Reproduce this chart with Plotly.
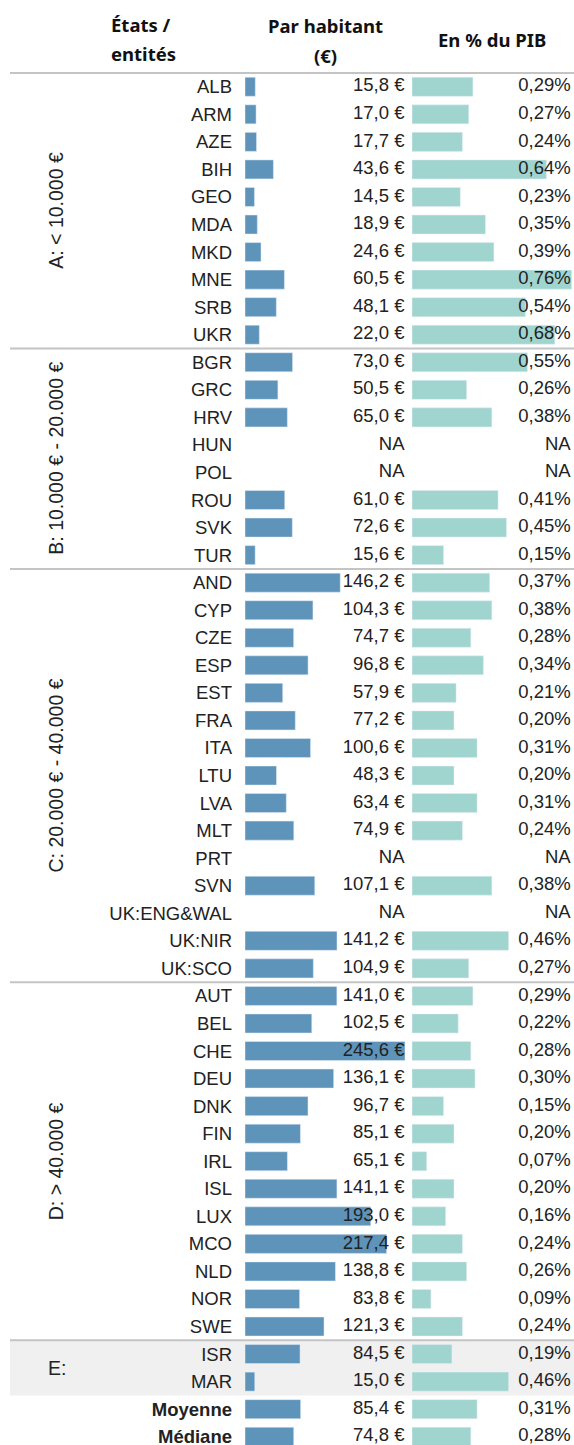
import plotly.graph_objects as go

# --- data ---
group_names = ["A: < 10.000 €", "B: 10.000 € - 20.000 €", "C: 20.000 € - 40.000 €",
               "D: > 40.000 €", "E:"]
group_sizes = [10, 8, 15, 13, 2]

entities = [
    "ALB", "ARM", "AZE", "BIH", "GEO", "MDA", "MKD", "MNE", "SRB", "UKR",
    "BGR", "GRC", "HRV", "HUN", "POL", "ROU", "SVK", "TUR",
    "AND", "CYP", "CZE", "ESP", "EST", "FRA", "ITA", "LTU", "LVA", "MLT",
    "PRT", "SVN", "UK:ENG&WAL", "UK:NIR", "UK:SCO",
    "AUT", "BEL", "CHE", "DEU", "DNK", "FIN", "IRL", "ISL", "LUX", "MCO",
    "NLD", "NOR", "SWE",
    "ISR", "MAR",
]
per_capita = [
    15.8, 17.0, 17.7, 43.6, 14.5, 18.9, 24.6, 60.5, 48.1, 22.0,
    73.0, 50.5, 65.0, None, None, 61.0, 72.6, 15.6,
    146.2, 104.3, 74.7, 96.8, 57.9, 77.2, 100.6, 48.3, 63.4, 74.9,
    None, 107.1, None, 141.2, 104.9,
    141.0, 102.5, 245.6, 136.1, 96.7, 85.1, 65.1, 141.1, 193.0, 217.4,
    138.8, 83.8, 121.3,
    84.5, 15.0,
]
pct_gdp = [
    0.29, 0.27, 0.24, 0.64, 0.23, 0.35, 0.39, 0.76, 0.54, 0.68,
    0.55, 0.26, 0.38, None, None, 0.41, 0.45, 0.15,
    0.37, 0.38, 0.28, 0.34, 0.21, 0.20, 0.31, 0.20, 0.31, 0.24,
    None, 0.38, None, 0.46, 0.27,
    0.29, 0.22, 0.28, 0.30, 0.15, 0.20, 0.07, 0.20, 0.16, 0.24,
    0.26, 0.09, 0.24,
    0.19, 0.46,
]

summary_names = ["Moyenne", "Médiane"]
summary_per_capita = [85.4, 74.8]
summary_pct = [0.31, 0.28]

# --- styling ---
BLUE = "#5e93ba"
TEAL = "#a0d4cf"
TEXT = "#222222"
RULE = "#c4c4c4"
FONT = "Liberation Sans"
HEAD_FONT = "Noto Sans"

W, H = 574, 1445
TOP = 73
ROW_PX = 27.55
n_visible = (H - TOP) / ROW_PX


def fmt_eur(v):
    return "NA" if v is None else f"{v:.1f}".replace(".", ",") + " €"


def fmt_pct(v):
    return "NA" if v is None else f"{v:.2f}".replace(".", ",") + "%"


rows = entities + summary_names
all_pc = per_capita + summary_per_capita
all_pct = pct_gdp + summary_pct
tick_text = entities + [f"<b>{s}</b>" for s in summary_names]

fig = go.Figure()

fig.add_trace(go.Bar(
    x=all_pc, y=rows, orientation="h", marker_color=BLUE, width=0.69,
    xaxis="x", yaxis="y", hoverinfo="skip", showlegend=False,
))
fig.add_trace(go.Bar(
    x=all_pct, y=rows, orientation="h", marker_color=TEAL, width=0.69,
    xaxis="x2", yaxis="y", hoverinfo="skip", showlegend=False,
))

# value labels, right aligned at the end of each column
pc_range = 250.2
pct_range = 0.7714
fig.add_trace(go.Scatter(
    x=[244.8] * len(rows), y=rows, text=[fmt_eur(v) for v in all_pc],
    mode="text", textposition="middle left", cliponaxis=False,
    textfont=dict(family=FONT, size=18.5, color=TEXT),
    xaxis="x", yaxis="y", hoverinfo="skip", showlegend=False,
))
fig.add_trace(go.Scatter(
    x=[0.7557] * len(rows), y=rows, text=[fmt_pct(v) for v in all_pct],
    mode="text", textposition="middle left", cliponaxis=False,
    textfont=dict(family=FONT, size=18.5, color=TEXT),
    xaxis="x2", yaxis="y", hoverinfo="skip", showlegend=False,
))

# group separators, E background and rotated group labels
shapes = [dict(type="line", xref="paper", yref="paper", x0=10 / W, x1=1, y0=1, y1=1,
               line=dict(color=RULE, width=2))]
annotations = []
start = 0
for name, size in zip(group_names, group_sizes):
    end = start + size
    if name == "E:":
        shapes.append(dict(type="rect", xref="paper", yref="y", x0=10 / W, x1=1,
                           y0=start - 0.5, y1=end - 0.5, fillcolor="#f0f0f0",
                           line=dict(width=0), layer="below"))
        annotations.append(dict(text=name, xref="paper", yref="y", x=57 / W,
                                y=(start + end - 1) / 2, showarrow=False,
                                xanchor="center", yanchor="middle",
                                font=dict(family=FONT, size=19.5, color=TEXT)))
    else:
        annotations.append(dict(text=name, xref="paper", yref="y", x=56 / W,
                                y=(start + end - 1) / 2, showarrow=False, textangle=-90,
                                xanchor="center", yanchor="middle",
                                font=dict(family=FONT, size=19.5, color=TEXT)))
    if start > 0:
        shapes.append(dict(type="line", xref="paper", yref="y", x0=10 / W, x1=1,
                           y0=start - 0.5, y1=start - 0.5,
                           line=dict(color=RULE, width=2)))
    start = end


def py(px):
    # pixel from top of page -> paper y
    return 1 + (TOP - px) / (H - TOP)


head = dict(family=HEAD_FONT, size=18.5, color="#111111", weight="bold")
for txt, x, y, anchor in [
    ("États /", 109, 25, "left"),
    ("entités", 109, 54, "left"),
    ("Par habitant", 325, 26, "center"),
    ("(€)", 325, 55, "center"),
    ("En % du PIB", 491.5, 39, "center"),
]:
    annotations.append(dict(text=txt, xref="paper", yref="paper", x=x / W, y=py(y),
                            xanchor=anchor, yanchor="middle", showarrow=False, font=head))

fig.update_layout(
    width=W, height=H,
    margin=dict(l=0, r=0, t=TOP, b=0, pad=0),
    paper_bgcolor="white", plot_bgcolor="rgba(0,0,0,0)",
    bargap=0.31,
    xaxis=dict(domain=[245 / W, 408 / W], range=[0, pc_range], showgrid=False,
               zeroline=False, showticklabels=False, showline=False, anchor="y"),
    xaxis2=dict(domain=[412 / W, 1], range=[0, pct_range], showgrid=False,
                zeroline=False, showticklabels=False, showline=False, anchor="y"),
    yaxis=dict(type="category", categoryarray=rows, range=[n_visible - 0.5, -0.5],
               tickvals=rows, ticktext=tick_text, ticks="", showgrid=False,
               zeroline=False, showline=False, anchor="x", automargin=False,
               ticklabelstandoff=12,
               tickfont=dict(family=FONT, size=18.5, color=TEXT)),
    shapes=shapes,
    annotations=annotations,
)

# drop the default page margin so the figure sits at the window's corner
fig.write_html("out.html", config={"displayModeBar": False},
               post_script="document.body.style.margin = '0';")
